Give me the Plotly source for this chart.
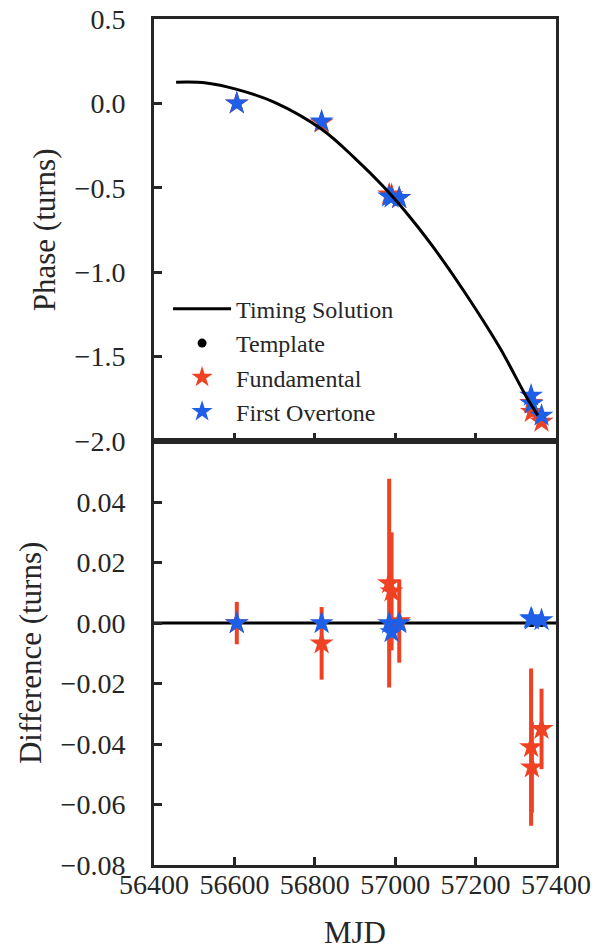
import plotly.graph_objects as go

# Observation epochs (MJD)
mjd = [56606, 56817, 56985, 56991, 57010, 57338, 57340, 57364]

# Measured pulse phases (turns)
phase_fund = [0.000, -0.114, -0.539, -0.544, -0.561, -1.775, -1.829, -1.887]
phase_over = [0.000, -0.107, -0.552, -0.558, -0.561, -1.732, -1.780, -1.851]
phase_tmpl = [0.000, -0.107, -0.552, -0.555, -0.561, -1.734, -1.781, -1.852]

# Phase differences relative to the template (turns)
diff_fund = [0.0000, -0.0067, 0.0132, 0.0105, 0.0006, -0.0410, -0.0477, -0.0350]
err_fund = [0.0070, 0.0120, 0.0345, 0.0195, 0.0137, 0.0260, 0.0150, 0.0133]
diff_over = [0.0000, 0.0000, 0.0000, -0.0030, 0.0000, 0.0016, 0.0012, 0.0010]
err_over = [0.0008, 0.0008, 0.0010, 0.0010, 0.0010, 0.0010, 0.0010, 0.0010]
diff_tmpl = [0.0, 0.0, 0.0, 0.0, 0.0, 0.0, 0.0, 0.0]
err_tmpl = [0.0005, 0.0005, 0.0005, 0.0005, 0.0005, 0.0005, 0.0005, 0.0005]

# Timing-solution curve samples (MJD, turns)
model_mjd = [56455, 56530, 56606, 56700, 56818, 56900, 56970, 57040, 57110,
             57186, 57261, 57327, 57355]
model_phase = [0.125, 0.121, 0.083, 0.006, -0.155, -0.326, -0.492, -0.684,
               -0.902, -1.167, -1.452, -1.742, -1.850]

x_ticks = [56400, 56600, 56800, 57000, 57200, 57400]
diff_ticks = [-0.08, -0.06, -0.04, -0.02, 0.00, 0.02, 0.04]

RED = "#EF4123"
BLUE = "#1F5FE8"
INK = "#262626"
FONT = "Liberation Serif"

fig = go.Figure()

# --- upper panel: phases ---
fig.add_trace(go.Scatter(
    x=mjd, y=phase_tmpl, mode="markers", name="Template",
    marker=dict(symbol="circle", size=9, color="black"),
    error_y=dict(type="data", array=err_tmpl, color="black", thickness=2, width=4),
    xaxis="x", yaxis="y", legendrank=2))
fig.add_trace(go.Scatter(
    x=mjd, y=phase_fund, mode="markers", name="Fundamental",
    marker=dict(symbol="star", size=18, color=RED, line=dict(width=0)),
    error_y=dict(type="data", array=err_fund, color=RED, thickness=3, width=0),
    xaxis="x", yaxis="y", legendrank=3))
fig.add_trace(go.Scatter(
    x=mjd, y=phase_over, mode="markers", name="First Overtone",
    marker=dict(symbol="star", size=18, color=BLUE, line=dict(width=0)),
    error_y=dict(type="data", array=err_over, color=BLUE, thickness=3, width=0),
    xaxis="x", yaxis="y", legendrank=4))
fig.add_trace(go.Scatter(
    x=model_mjd, y=model_phase, mode="lines", name="Timing Solution",
    line=dict(color="black", width=3, shape="spline", smoothing=1.0),
    xaxis="x", yaxis="y", legendrank=1))

# --- lower panel: differences ---
fig.add_trace(go.Scatter(
    x=mjd, y=diff_tmpl, mode="markers", showlegend=False,
    marker=dict(symbol="circle", size=8, color="black"),
    error_y=dict(type="data", array=err_tmpl, color="black", thickness=2, width=0),
    xaxis="x2", yaxis="y2"))
fig.add_trace(go.Scatter(
    x=mjd, y=diff_fund, mode="markers", showlegend=False,
    marker=dict(symbol="star", size=18, color=RED, line=dict(width=0)),
    error_y=dict(type="data", array=err_fund, color=RED, thickness=4, width=0),
    xaxis="x2", yaxis="y2"))
fig.add_trace(go.Scatter(
    x=mjd, y=diff_over, mode="markers", showlegend=False,
    marker=dict(symbol="star", size=18, color=BLUE, line=dict(width=0)),
    error_y=dict(type="data", array=err_over, color=BLUE, thickness=4, width=0),
    xaxis="x2", yaxis="y2"))

# zero reference line across the lower panel
fig.add_shape(type="line", xref="x2 domain", yref="y2", x0=0, x1=1, y0=0, y1=0,
              line=dict(color="black", width=3), layer="below")

axis_common = dict(
    showline=True, linecolor=INK, linewidth=3, mirror=True,
    ticks="inside", ticklen=8, tickwidth=2.5, tickcolor=INK,
    showgrid=False, zeroline=False, automargin=False,
    tickfont=dict(family=FONT, size=28, color=INK),
)

split = 0.5015
fig.update_layout(
    width=609, height=950,
    margin=dict(l=154, r=53, t=19, b=85),
    paper_bgcolor="white", plot_bgcolor="white",
    font=dict(family=FONT, color=INK),
    xaxis=dict(domain=[0, 1], anchor="y", range=[56400, 57400],
               tickvals=x_ticks, showticklabels=False, matches="x2", **axis_common),
    yaxis=dict(domain=[split, 1], anchor="x", range=[-2.0, 0.5], tick0=0, dtick=0.5,
               tickformat=".1f", ticklabelstandoff=20,
               title=dict(text="Phase (turns)", font=dict(family=FONT, size=31, color=INK),
                          standoff=10),
               **axis_common),
    xaxis2=dict(domain=[0, 1], anchor="y2", range=[56400, 57400],
                tickvals=x_ticks, tickformat="d", ticklabelstandoff=-8,
                title=dict(text="MJD", font=dict(family=FONT, size=31, color=INK),
                           standoff=37),
                **axis_common),
    yaxis2=dict(domain=[0, split], anchor="x2", range=[-0.08, 0.0603],
                tickvals=diff_ticks, tickformat=".2f", ticklabelstandoff=20,
                title=dict(text="Difference (turns)",
                           font=dict(family=FONT, size=31, color=INK), standoff=10),
                **axis_common),
    legend=dict(x=0.035, y=0.6835, xanchor="left", yanchor="top",
                bgcolor="rgba(0,0,0,0)", borderwidth=0, itemwidth=58,
                font=dict(family=FONT, size=24, color=INK), tracegroupgap=0),
    showlegend=True,
)

fig.write_html("out.html")
